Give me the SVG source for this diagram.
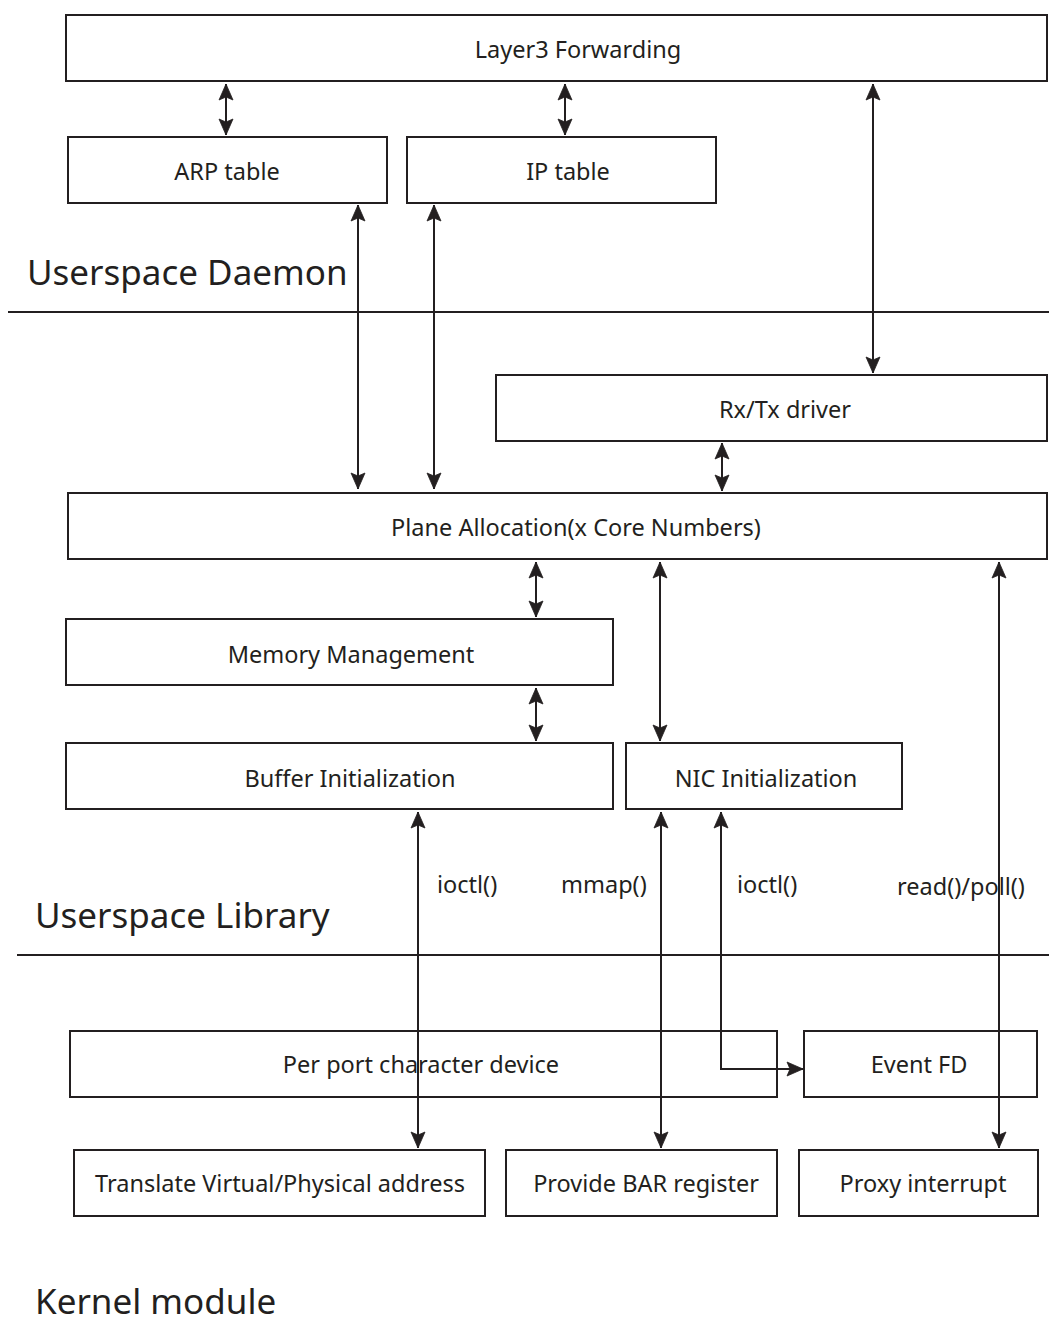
<svg xmlns="http://www.w3.org/2000/svg" width="1049" height="1337" viewBox="0 0 1049 1337">
  <style>
    .box { fill: none; stroke: #231f20; stroke-width: 2; }
    .lbl { font-family: "Noto Sans", "Open Sans", sans-serif; font-size: 23.5px; fill: #231f20; text-anchor: middle; }
    .call { font-family: "Noto Sans", "Open Sans", sans-serif; font-size: 23.5px; fill: #231f20; }
    .layer { font-family: "Noto Sans", "Open Sans", sans-serif; font-size: 35px; fill: #231f20; }
    .rule { stroke: #231f20; stroke-width: 2; fill: none; }
    .wire { stroke: #231f20; stroke-width: 2; fill: none; marker-start: url(#head); marker-end: url(#head); }
  </style>
  <defs>
    <marker id="head" markerUnits="userSpaceOnUse" markerWidth="20" markerHeight="18" viewBox="0 -9 20 18" refX="16" refY="0" orient="auto-start-reverse" overflow="visible">
      <path d="M0,-7 L16,0 L0,7 L3,0 Z" fill="#231f20" stroke="#231f20" stroke-width="0.8" stroke-linejoin="miter"/>
    </marker>
  </defs>

  <rect width="1049" height="1337" fill="#ffffff"/>

  <!-- layer separators and titles -->
  <g id="layers">
    <line class="rule" x1="8" y1="312" x2="1049" y2="312"/>
    <line class="rule" x1="17" y1="955" x2="1049" y2="955"/>
    <text class="layer" x="27" y="285">Userspace Daemon</text>
    <text class="layer" x="35" y="928">Userspace Library</text>
    <text class="layer" x="35" y="1314">Kernel module</text>
  </g>

  <g id="layer3-forwarding">
    <rect class="box" x="66" y="15" width="981" height="66"/>
    <text class="lbl" x="578" y="58">Layer3 Forwarding</text>
  </g>
  <g id="arp-table">
    <rect class="box" x="68" y="137" width="319" height="66"/>
    <text class="lbl" x="227" y="180">ARP table</text>
  </g>
  <g id="ip-table">
    <rect class="box" x="407" y="137" width="309" height="66"/>
    <text class="lbl" x="568" y="180">IP table</text>
  </g>
  <g id="rxtx-driver">
    <rect class="box" x="496" y="375" width="551" height="66"/>
    <text class="lbl" x="785" y="418">Rx/Tx driver</text>
  </g>
  <g id="plane-allocation">
    <rect class="box" x="68" y="493" width="979" height="66"/>
    <text class="lbl" x="576" y="536">Plane Allocation(x Core Numbers)</text>
  </g>
  <g id="memory-management">
    <rect class="box" x="66" y="619" width="547" height="66"/>
    <text class="lbl" x="351" y="663">Memory Management</text>
  </g>
  <g id="buffer-initialization">
    <rect class="box" x="66" y="743" width="547" height="66"/>
    <text class="lbl" x="350" y="787">Buffer Initialization</text>
  </g>
  <g id="nic-initialization">
    <rect class="box" x="626" y="743" width="276" height="66"/>
    <text class="lbl" x="766" y="787">NIC Initialization</text>
  </g>
  <g id="per-port-character-device">
    <rect class="box" x="70" y="1031" width="707" height="66"/>
    <text class="lbl" x="421" y="1073">Per port character device</text>
  </g>
  <g id="event-fd">
    <rect class="box" x="804" y="1031" width="233" height="66"/>
    <text class="lbl" x="919" y="1073">Event FD</text>
  </g>
  <g id="translate-address">
    <rect class="box" x="74" y="1150" width="411" height="66"/>
    <text class="lbl" x="280" y="1192">Translate Virtual/Physical address</text>
  </g>
  <g id="provide-bar-register">
    <rect class="box" x="506" y="1150" width="271" height="66"/>
    <text class="lbl" x="646" y="1192">Provide BAR register</text>
  </g>
  <g id="proxy-interrupt">
    <rect class="box" x="799" y="1150" width="239" height="66"/>
    <text class="lbl" x="923" y="1192">Proxy interrupt</text>
  </g>

  <!-- connectors: double-headed; drawn over the boxes they pass through -->
  <g id="connectors">
    <line class="wire" x1="226" y1="84" x2="226" y2="135"/>
    <line class="wire" x1="565" y1="84" x2="565" y2="135"/>
    <line class="wire" x1="873" y1="84" x2="873" y2="373"/>
    <line class="wire" x1="358" y1="205" x2="358" y2="489"/>
    <line class="wire" x1="434" y1="205" x2="434" y2="489"/>
    <line class="wire" x1="722" y1="443" x2="722" y2="491"/>
    <line class="wire" x1="536" y1="562" x2="536" y2="617"/>
    <line class="wire" x1="536" y1="688" x2="536" y2="741"/>
    <line class="wire" x1="660" y1="562" x2="660" y2="741"/>
    <line class="wire" x1="418" y1="812" x2="418" y2="1148"/>
    <line class="wire" x1="661" y1="812" x2="661" y2="1148"/>
    <path class="wire" d="M721,812 V1069 H803"/>
    <line class="wire" x1="999" y1="562" x2="999" y2="1148"/>
    <text class="call" x="437" y="893">ioctl()</text>
    <text class="call" x="561" y="893">mmap()</text>
    <text class="call" x="737" y="893">ioctl()</text>
    <text class="call" x="897" y="895">read()/poll()</text>
  </g>
</svg>
